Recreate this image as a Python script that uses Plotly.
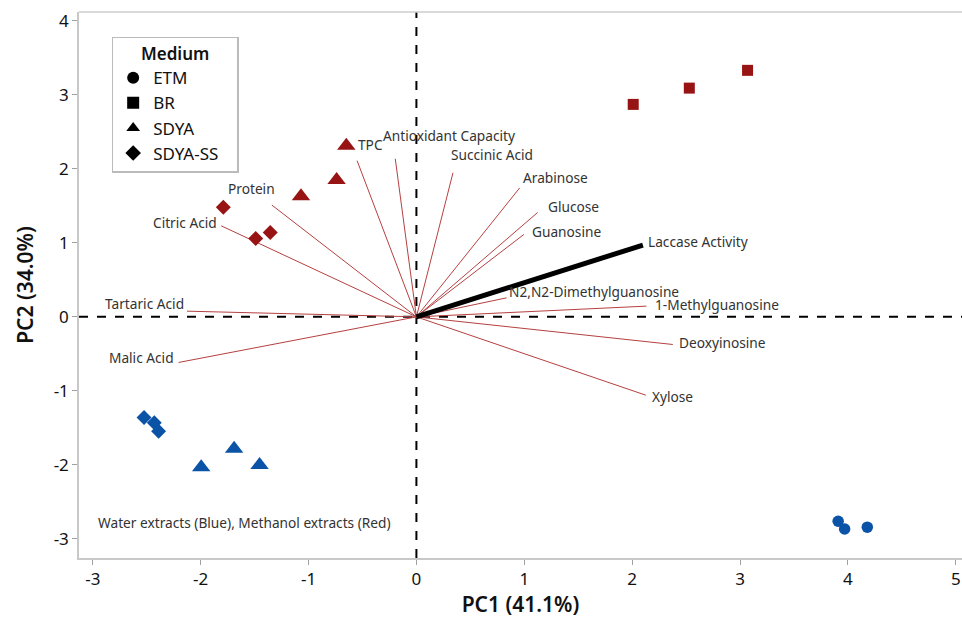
import plotly.graph_objects as go

# ---- data ----
media = ["ETM", "BR", "SDYA", "SDYA-SS"]
symbols = {"ETM": "circle", "BR": "square", "SDYA": "triangle-up", "SDYA-SS": "diamond"}

# scores: methanol extracts (red)
br_red_x = [2.01, 2.53, 3.07]
br_red_y = [2.87, 3.09, 3.33]
sdya_red_x = [-0.65, -0.74, -1.07]
sdya_red_y = [2.31, 1.85, 1.63]
ss_red_x = [-1.79, -1.49, -1.355]
ss_red_y = [1.48, 1.06, 1.14]

# scores: water extracts (blue)
etm_blue_x = [3.91, 3.97, 4.18]
etm_blue_y = [-2.76, -2.865, -2.84]
sdya_blue_x = [-1.995, -1.69, -1.454]
sdya_blue_y = [-2.03, -1.78, -2.00]
ss_blue_x = [-2.525, -2.43, -2.39]
ss_blue_y = [-1.36, -1.43, -1.545]

# loadings (vector end points)
load_names = ["TPC", "Antioxidant Capacity", "Protein", "Citric Acid", "Tartaric Acid",
              "Malic Acid", "Succinic Acid", "Arabinose", "Glucose", "Guanosine",
              "N2,N2-Dimethylguanosine", "1-Methylguanosine", "Deoxyinosine", "Xylose"]
load_x = [-0.55, -0.196, -1.34, -1.81, -2.127, -2.205, 0.339, 0.958, 1.124, 0.996,
          0.836, 2.133, 2.377, 2.127]
load_y = [2.11, 2.135, 1.51, 1.23, 0.077, -0.616, 1.946, 1.743, 1.41, 1.113,
          0.257, 0.145, -0.373, -1.058]
laccase_name = "Laccase Activity"
laccase_x = 2.10
laccase_y = 0.97

x_ticks = [-3, -2, -1, 0, 1, 2, 3, 4, 5]
y_ticks = [-3, -2, -1, 0, 1, 2, 3, 4]
x_ticktext = ["-3", "-2", "-1", "0", "1", "2", "3", "4", "5"]
y_ticktext = ["-3", "-2", "-1", "0", "1", "2", "3", "4"]

RED = "#981414"
BLUE = "#0A53A6"
LINE_RED = "#B54040"
TXT = "#333333"
FONT = "Noto Sans"
LBL = 13.7

fig = go.Figure()

# loading vectors
for n, lx, ly in zip(load_names, load_x, load_y):
    fig.add_trace(go.Scatter(x=[0, lx], y=[0, ly], mode="lines",
                             line=dict(color=LINE_RED, width=1), showlegend=False,
                             hoverinfo="skip"))
fig.add_trace(go.Scatter(x=[0, laccase_x], y=[0, laccase_y], mode="lines",
                         line=dict(color="black", width=5), showlegend=False))

def pts(x, y, sym, col, size):
    fig.add_trace(go.Scatter(x=x, y=y, mode="markers", showlegend=False,
                             marker=dict(symbol=sym, color=col, size=size,
                                         line=dict(width=0))))

pts(br_red_x, br_red_y, "square", RED, 11)
pts(sdya_red_x, sdya_red_y, "triangle-up", RED, 16)
pts(ss_red_x, ss_red_y, "diamond", RED, 11.5)
pts(etm_blue_x, etm_blue_y, "circle", BLUE, 11.5)
pts(sdya_blue_x, sdya_blue_y, "triangle-up", BLUE, 16)
pts(ss_blue_x, ss_blue_y, "diamond", BLUE, 11.5)

# legend entries
leg_sizes = {"ETM": 12, "BR": 11, "SDYA": 15, "SDYA-SS": 12}
for m in media:
    fig.add_trace(go.Scatter(x=[None], y=[None], mode="markers",
                             name=m + ("\u00a0\u00a0\u00a0" if m == "SDYA-SS" else ""),
                             marker=dict(symbol=symbols[m], color="black",
                                         size=leg_sizes[m])))

# label placement (anchor and offsets)
label_pos = {
    "TPC": (-1, 16, "left"),
    "Antioxidant Capacity": (-14, 23, "left"),
    "Protein": (-46, 17, "left"),
    "Citric Acid": (-2, 3, "right"),
    "Tartaric Acid": (-1, 8, "right"),
    "Malic Acid": (-3, 5, "right"),
    "Succinic Acid": (-4, 18, "left"),
    "Arabinose": (1, 10, "left"),
    "Glucose": (8, 6, "left"),
    "Guanosine": (6, 3, "left"),
    "N2,N2-Dimethylguanosine": (0, 6, "left"),
    "1-Methylguanosine": (7, 2, "left"),
    "Deoxyinosine": (4, 2, "left"),
    "Xylose": (4, -1, "left"),
}
anns = []
for n, lx, ly in zip(load_names, load_x, load_y):
    dx, dy, anc = label_pos[n]
    anns.append(dict(x=lx, y=ly, xref="x", yref="y", text=n, showarrow=False,
                     xanchor=anc, yanchor="middle", xshift=dx, yshift=dy,
                     font=dict(family=FONT, size=LBL, color=TXT)))
anns.append(dict(x=laccase_x, y=laccase_y, xref="x", yref="y", text=laccase_name,
                 showarrow=False, xanchor="left", yanchor="middle", xshift=3, yshift=4,
                 font=dict(family=FONT, size=LBL, color=TXT)))
anns.append(dict(x=-2.975, y=-2.78, xref="x", yref="y",
                 text="Water extracts (Blue), Methanol extracts (Red)", showarrow=False,
                 xanchor="left", yanchor="middle",
                 font=dict(family=FONT, size=LBL, color=TXT)))

fig.update_layout(
    width=962, height=623,
    margin=dict(l=79, r=0, t=12, b=65),
    paper_bgcolor="white", plot_bgcolor="white",
    font=dict(family=FONT, color="black"),
    annotations=anns,
    shapes=[
        dict(type="line", xref="x", yref="paper", x0=0, x1=0, y0=0, y1=1,
             line=dict(color="black", width=2, dash="dash"), layer="below"),
        dict(type="line", xref="paper", yref="y", x0=0, x1=1, y0=0, y1=0,
             line=dict(color="black", width=2, dash="dash"), layer="below"),
        dict(type="line", xref="paper", yref="paper", x0=0, x1=1, y0=1, y1=1,
             line=dict(color="#cccccc", width=1.5)),
    ],
    xaxis=dict(range=[-3.128, 5.058], tickvals=x_ticks, ticktext=x_ticktext,
               showgrid=False, zeroline=False,
               showline=True, linecolor="#c8c8c8", linewidth=1.5,
               ticks="outside", ticklen=5, tickcolor="#a0a0a0",
               tickfont=dict(family=FONT, size=17, color="#111111"),
               title=dict(text="PC1 (41.1%)", standoff=6,
                          font=dict(family=FONT, size=21, color="#111111", weight=600))),
    yaxis=dict(range=[-3.257, 4.118], tickvals=y_ticks, ticktext=y_ticktext,
               showgrid=False, zeroline=False,
               showline=True, linecolor="#c8c8c8", linewidth=1.5,
               ticks="outside", ticklen=5, tickcolor="#a0a0a0",
               tickfont=dict(family=FONT, size=17, color="#111111"),
               title=dict(text="PC2 (34.0%)", standoff=14,
                          font=dict(family=FONT, size=21, color="#111111", weight=600))),
    legend=dict(x=0.037, y=0.955, xanchor="left", yanchor="top",
                bordercolor="#bbbbbb", borderwidth=1.5, bgcolor="white",
                title=dict(text="Medium", side="top center",
                           font=dict(family=FONT, size=17, color="#111111", weight=600)),
                font=dict(family=FONT, size=17, color="#111111"),
                itemsizing="constant", tracegroupgap=0),
)

fig.write_html("out.html")
